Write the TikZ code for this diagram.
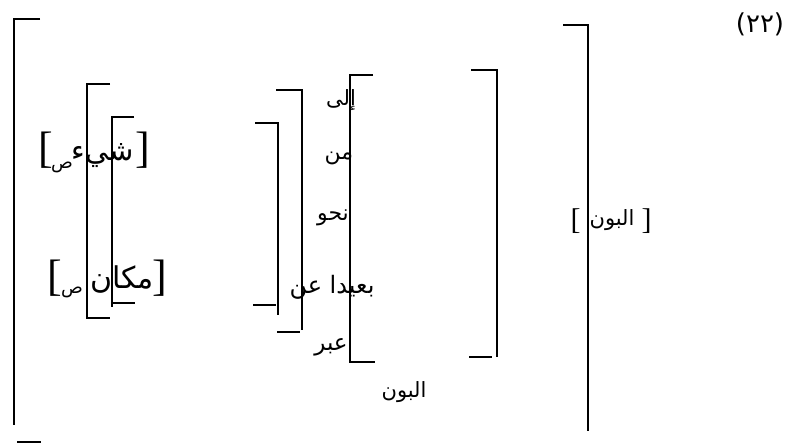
\documentclass[tikz,border=0pt]{standalone}
\usepackage{fontspec}
\newfontfamily\arabicfont[Script=Arabic]{DejaVu Sans}
\newfontfamily\brfont{Liberation Serif}
\TeXXeTstate=1
\tikzset{
  ar/.style={font=\arabicfont\fontsize{#1}{#1}\selectfont, inner sep=0pt, outer sep=0pt},
  brk/.style={font=\brfont\fontsize{#1}{#1}\selectfont, inner sep=0pt, outer sep=0pt},
  bline/.style={line width=1.2pt, line cap=butt, line join=miter},
}
\begin{document}
\begin{tikzpicture}[x=1pt,y=-1pt]
\useasboundingbox[fill=white] (0,0) rectangle (791,446);

% big outer brackets
\draw[bline] (40,19) -- (14,19) -- (14,425);
\draw[bline] (17,442) -- (41,442);
\draw[bline] (563,25) -- (588,25) -- (588,431);

% second-level right bracket
\draw[bline] (471,70) -- (497,70) -- (497,357);
\draw[bline] (469,357) -- (492,357);

% preposition bracket (left side)
\draw[bline] (373,75) -- (350,75) -- (350,362) -- (375,362);

% middle brackets
\draw[bline] (276,90) -- (302,90) -- (302,330);
\draw[bline] (277,332) -- (300,332);
\draw[bline] (255,123) -- (278,123) -- (278,315);
\draw[bline] (253,305) -- (276,305);

% left brackets
\draw[bline] (110,84) -- (87,84) -- (87,318) -- (110,318);
\draw[bline] (134,117) -- (112,117) -- (112,307);
\draw[bline] (112,303) -- (135,303);

% left feature structures
\node[brk=44] (lb1) at (45.5,150) {[};
\node[ar=18] (sad1) at (62,167) {\beginR ص\endR};
\node[ar=29] (shay) at (103,156) {\beginR شيء\endR};
\node[brk=44] (rb1) at (142.5,150) {]};

\node[brk=44] (lb2) at (54.5,278.5) {[};
\node[ar=18] (sad2) at (72,292) {\beginR ص\endR};
\node[ar=30] (makan) at (122,280) {\beginR مكان\endR};
\node[brk=44] (rb2) at (159.5,278.5) {]};

% prepositions
\node[ar=21] (ila) at (341,100) {\beginR إلى\endR};
\node[ar=22] (min) at (339,158) {\beginR من\endR};
\node[ar=22] (nahw) at (333,218) {\beginR نحو\endR};
\node[ar=24] (baid) at (332,287) {\beginR بعيدا عن\endR};
\node[ar=23] (abr) at (331,347) {\beginR عبر\endR};

\node[ar=21] (bun1) at (404,392) {\beginR البون\endR};

% right
\node[brk=30] (lb3) at (575.5,221) {[};
\node[ar=21] (bun2) at (612,220) {\beginR البون\endR};
\node[brk=30] (rb3) at (646.5,221) {]};

\node[ar=26] (num) at (760,24) {(٢٢)};
\end{tikzpicture}
\end{document}
